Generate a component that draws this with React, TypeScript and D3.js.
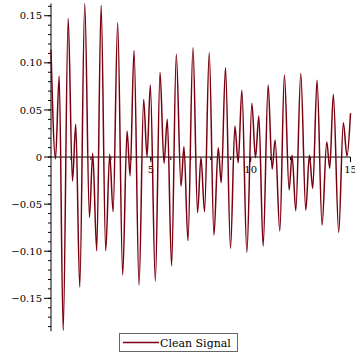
import React from "react";
import * as d3 from "d3";

// Extrema of the clean signal (time, amplitude)
const times = [
  0, 0.225, 0.41, 0.61, 0.86, 1.075, 1.24, 1.44, 1.69, 1.925, 2.09, 2.29, 2.51, 2.74, 2.94,
  3.11, 3.34, 3.59, 3.81, 3.96, 4.16, 4.41, 4.64, 4.81, 4.975, 5.225, 5.46, 5.66, 5.825,
  6.04, 6.275, 6.51, 6.66, 6.86, 7.11, 7.34, 7.51, 7.69, 7.925, 8.16, 8.375, 8.525, 8.74,
  8.99, 9.21, 9.375, 9.56, 9.81, 10.06, 10.24, 10.41, 10.625, 10.875, 11.075, 11.225,
  11.46, 11.69, 11.925, 12.075, 12.26, 12.51, 12.76, 12.94, 13.11, 13.325, 13.575, 13.81,
  13.96, 14.14, 14.41, 14.64, 14.825, 15,
];
const values = [
  0.114, -0.002, 0.086, -0.184, 0.147, -0.0255, 0.0347, -0.138, 0.163, -0.064, 0.004,
  -0.0995, 0.161, -0.0995, 0.003, -0.058, 0.1426, -0.125, 0.0276, -0.02, 0.113, -0.136,
  0.061, 0.0004, 0.0764, -0.1316, 0.09, -0.0067, 0.04, -0.1154, 0.109, -0.0308, 0.011,
  -0.0888, 0.116, -0.059, -0.0004, -0.058, 0.1107, -0.0828, 0.0099, -0.0273, 0.0948,
  -0.097, 0.0329, -0.006, 0.071, -0.101, 0.057, -0.0007, 0.0435, -0.0945, 0.0764, -0.013,
  0.018, -0.0786, 0.087, -0.035, 0.002, -0.057, 0.0888, -0.0563, 0.002, -0.0333, 0.0814,
  -0.0722, 0.0163, -0.012, 0.0665, -0.08, 0.0364, 0.001, 0.0464,
];
const yMajorTicks = [-0.15, -0.1, -0.05, 0, 0.05, 0.1, 0.15];
const yTickLabels = ["\u22120.15", "\u22120.10", "\u22120.05", "0", "0.05", "0.10", "0.15"];
const xMajorTicks = [5, 10, 15];
const xTickLabels = ["5", "10", "15"];
const seriesName = "Clean Signal";

export default function App() {
  const W = 355, H = 355;
  const x = d3.scaleLinear().domain([0, 15]).range([51, 350.5]);
  const y = d3.scaleLinear().domain([-0.185, 0.163]).range([331.3, 3.5]);
  const pts = times.map((t, i) => [t, values[i]] as [number, number]);
  const line = d3
    .line<[number, number]>()
    .x((d) => x(d[0]))
    .y((d) => y(d[1]))
    .curve(d3.curveMonotoneX);
  const yMinor = d3.range(-18, 17).map((k) => k / 100);
  const xMinor = d3.range(1, 16);
  const font = "'DejaVu Serif', serif";
  const col = "#7a0010";
  return (
    <svg
      width={W}
      height={H}
      style={{ position: "absolute", left: 0, top: 0, background: "#fff" }}
    >
      {/* y axis */}
      <line x1={x(0)} x2={x(0)} y1={y(0.163)} y2={y(-0.185)} stroke="#000" strokeWidth={1} />
      {yMinor.map((v, i) => (
        <line key={"ym" + i} x1={x(0) - 3} x2={x(0)} y1={y(v)} y2={y(v)} stroke="#000" strokeWidth={1} />
      ))}
      {yMajorTicks.map((v, i) => (
        <g key={"yM" + i}>
          <line x1={x(0) - 7} x2={x(0)} y1={y(v)} y2={y(v)} stroke="#000" strokeWidth={1} />
          <text x={42} y={y(v) + 3.6} fontSize={10} fontFamily={font} textAnchor="end" fill="#000">
            {yTickLabels[i]}
          </text>
        </g>
      ))}
      {/* x axis */}
      <line x1={x(0)} x2={x(15)} y1={y(0)} y2={y(0)} stroke="#000" strokeWidth={1} />
      {xMinor.map((t, i) => (
        <line key={"xm" + i} x1={x(t)} x2={x(t)} y1={y(0)} y2={y(0) + 3} stroke="#000" strokeWidth={1} />
      ))}
      {xMajorTicks.map((t, i) => (
        <g key={"xM" + i}>
          <line x1={x(t)} x2={x(t)} y1={y(0)} y2={y(0) + 5} stroke="#000" strokeWidth={1} />
          <text x={x(t)} y={y(0) + 16} fontSize={10} fontFamily={font} textAnchor="middle" fill="#000">
            {xTickLabels[i]}
          </text>
        </g>
      ))}
      {/* signal */}
      <path d={line(pts) || ""} fill="none" stroke={col} strokeWidth={1.5} strokeLinejoin="round" />
      {/* legend */}
      <rect x={119.5} y={333.5} width={118} height={18} fill="#fff" stroke="#666" strokeWidth={1} />
      <line x1={123} x2={159} y1={342.5} y2={342.5} stroke={col} strokeWidth={1.5} />
      <text x={160} y={346.5} fontSize={11} fontFamily={font} fill="#000">
        {seriesName}
      </text>
    </svg>
  );
}
